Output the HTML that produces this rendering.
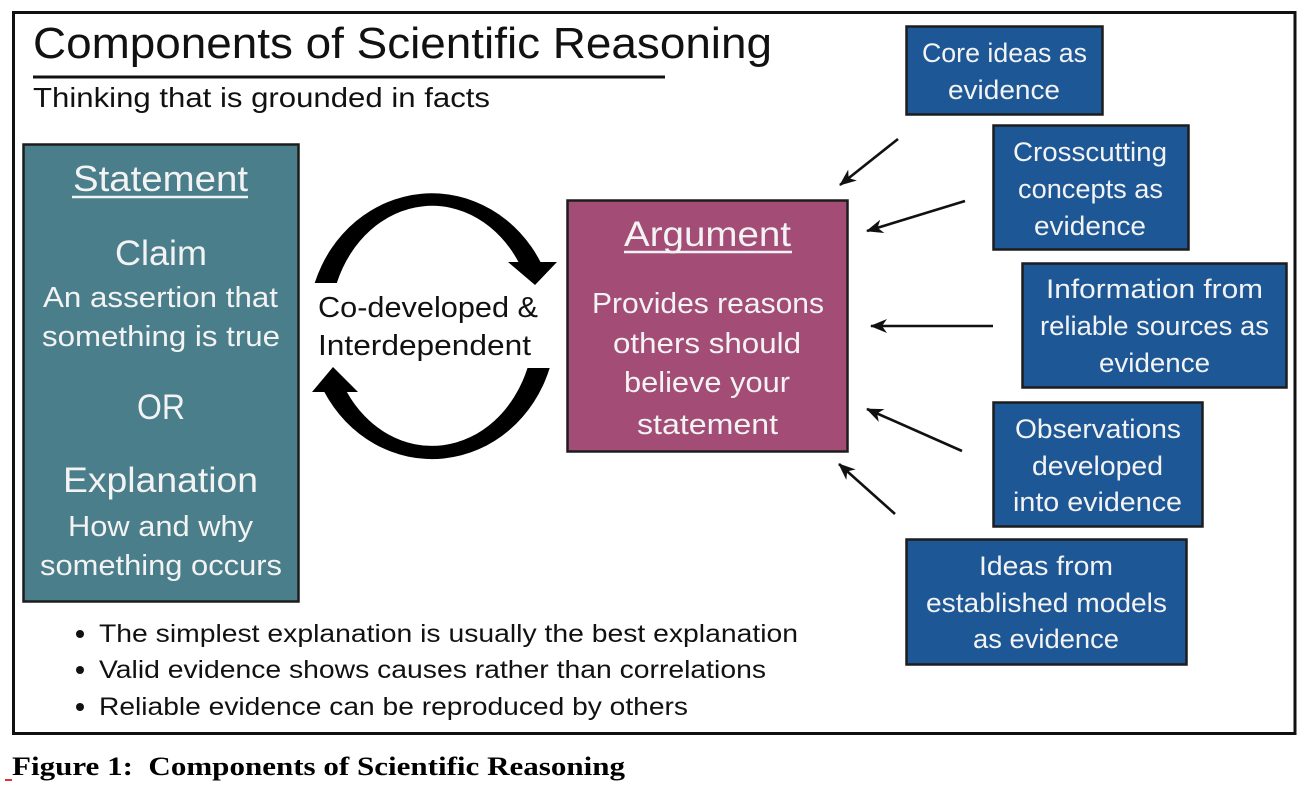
<!DOCTYPE html>
<html>
<head>
<meta charset="utf-8">
<style>
  html, body { margin: 0; padding: 0; background: #ffffff; }
  body { width: 1308px; height: 792px; overflow: hidden; }
  svg { display: block; }
  text { font-family: "Liberation Sans", Arial, sans-serif; }
  .cap { font-family: "Liberation Serif", "Times New Roman", serif; font-weight: bold; }
</style>
</head>
<body>
<svg width="1308" height="792" viewBox="0 0 1308 792" xmlns="http://www.w3.org/2000/svg">
  <defs>
    <marker id="ah" markerWidth="17" markerHeight="14" refX="16" refY="7" orient="auto" markerUnits="userSpaceOnUse">
      <path d="M0,0 L17,7 L0,14 L5,7 z" fill="#111"/>
    </marker>
  </defs>

  <rect x="0" y="0" width="1308" height="792" fill="#ffffff"/>

  <!-- outer frame -->
  <rect x="13.5" y="12.5" width="1281.5" height="721" fill="none" stroke="#111" stroke-width="3"/>

  <!-- title -->
  <text x="33" y="58" font-size="44" fill="#111" textLength="739" lengthAdjust="spacingAndGlyphs">Components of Scientific Reasoning</text>
  <line x1="33" y1="77" x2="665" y2="77" stroke="#111" stroke-width="3"/>
  <text x="33" y="107" font-size="28" fill="#111" textLength="457" lengthAdjust="spacingAndGlyphs">Thinking that is grounded in facts</text>

  <!-- Statement box -->
  <rect x="23.5" y="144.5" width="275" height="457" fill="#4a7e8b" stroke="#1d1d1d" stroke-width="2.5"/>
  <g fill="#f3f3f3">
    <text x="73" y="191" font-size="36" textLength="175" lengthAdjust="spacingAndGlyphs">Statement</text>
    <text x="115" y="265" font-size="35" textLength="92" lengthAdjust="spacingAndGlyphs">Claim</text>
    <text x="43" y="307" font-size="29" textLength="235" lengthAdjust="spacingAndGlyphs">An assertion that</text>
    <text x="42" y="346" font-size="29" textLength="238" lengthAdjust="spacingAndGlyphs">something is true</text>
    <text x="137" y="419" font-size="35" textLength="48" lengthAdjust="spacingAndGlyphs">OR</text>
    <text x="63" y="492" font-size="35" textLength="195" lengthAdjust="spacingAndGlyphs">Explanation</text>
    <text x="68" y="536" font-size="29" textLength="185" lengthAdjust="spacingAndGlyphs">How and why</text>
    <text x="40" y="575" font-size="29" textLength="242" lengthAdjust="spacingAndGlyphs">something occurs</text>
  </g>
  <line x1="72" y1="197" x2="248" y2="197" stroke="#f3f3f3" stroke-width="2.5"/>

  <!-- cycle arrows (tapered arcs) -->
  <path d="M 314.7 283 A 124 133 0 0 1 541 263 L 519 263 A 102 120 0 0 0 336.8 283 Z" fill="#000"/>
  <polygon points="508,262 557,262 535,285" fill="#000"/>
  <path d="M 549.7 368 A 124 133 0 0 1 323.8 391 L 346.3 391 A 102 120 0 0 0 527.5 368 Z" fill="#000"/>
  <polygon points="312,392 358,392 333,367" fill="#000"/>
  <text x="318" y="317" font-size="29" fill="#111" textLength="220" lengthAdjust="spacingAndGlyphs">Co-developed &amp;</text>
  <text x="318" y="355" font-size="29" fill="#111" textLength="213" lengthAdjust="spacingAndGlyphs">Interdependent</text>

  <!-- Argument box -->
  <rect x="567.5" y="200.5" width="280" height="251" fill="#a34c76" stroke="#1d1d1d" stroke-width="2.5"/>
  <g fill="#f3f3f3">
    <text x="624" y="246" font-size="35" textLength="167" lengthAdjust="spacingAndGlyphs">Argument</text>
    <text x="592" y="313" font-size="29" textLength="232" lengthAdjust="spacingAndGlyphs">Provides reasons</text>
    <text x="613" y="353" font-size="29" textLength="188" lengthAdjust="spacingAndGlyphs">others should</text>
    <text x="624" y="392" font-size="29" textLength="166" lengthAdjust="spacingAndGlyphs">believe your</text>
    <text x="637" y="434" font-size="29" textLength="141" lengthAdjust="spacingAndGlyphs">statement</text>
  </g>
  <line x1="624" y1="252" x2="792" y2="252" stroke="#f3f3f3" stroke-width="2.5"/>

  <!-- evidence boxes -->
  <g stroke="#1d1d1d" stroke-width="2.5" fill="#1d5795">
    <rect x="906.5" y="26.5" width="196" height="88"/>
    <rect x="993.5" y="125.5" width="195" height="124"/>
    <rect x="1022.5" y="263.5" width="264" height="124"/>
    <rect x="993.5" y="402.5" width="209" height="124"/>
    <rect x="906.5" y="539.5" width="280" height="125"/>
  </g>
  <g fill="#f3f3f3" font-size="27">
    <text x="922" y="62" textLength="165" lengthAdjust="spacingAndGlyphs">Core ideas as</text>
    <text x="948" y="99" textLength="112" lengthAdjust="spacingAndGlyphs">evidence</text>

    <text x="1013" y="161" textLength="154" lengthAdjust="spacingAndGlyphs">Crosscutting</text>
    <text x="1018" y="198" textLength="145" lengthAdjust="spacingAndGlyphs">concepts as</text>
    <text x="1034" y="235" textLength="112" lengthAdjust="spacingAndGlyphs">evidence</text>

    <text x="1046" y="298" textLength="217" lengthAdjust="spacingAndGlyphs">Information from</text>
    <text x="1040" y="335" textLength="229" lengthAdjust="spacingAndGlyphs">reliable sources as</text>
    <text x="1099" y="372" textLength="111" lengthAdjust="spacingAndGlyphs">evidence</text>

    <text x="1015" y="438" textLength="166" lengthAdjust="spacingAndGlyphs">Observations</text>
    <text x="1032" y="475" textLength="131" lengthAdjust="spacingAndGlyphs">developed</text>
    <text x="1013" y="511" textLength="169" lengthAdjust="spacingAndGlyphs">into evidence</text>

    <text x="979" y="575" textLength="134" lengthAdjust="spacingAndGlyphs">Ideas from</text>
    <text x="926" y="612" textLength="241" lengthAdjust="spacingAndGlyphs">established models</text>
    <text x="973" y="648" textLength="146" lengthAdjust="spacingAndGlyphs">as evidence</text>
  </g>

  <!-- evidence arrows -->
  <g stroke="#111" stroke-width="2.6" fill="none" marker-end="url(#ah)">
    <line x1="898" y1="139" x2="840" y2="185"/>
    <line x1="965" y1="201" x2="867" y2="231"/>
    <line x1="993" y1="326" x2="871" y2="326"/>
    <line x1="962" y1="451" x2="867" y2="409"/>
    <line x1="895" y1="514" x2="839" y2="464"/>
  </g>

  <!-- bullets -->
  <g fill="#111">
    <circle cx="80" cy="634" r="4"/>
    <circle cx="80" cy="670" r="4"/>
    <circle cx="80" cy="707" r="4"/>
    <text x="99" y="642" font-size="25" textLength="699" lengthAdjust="spacingAndGlyphs">The simplest explanation is usually the best explanation</text>
    <text x="99" y="678" font-size="25" textLength="667" lengthAdjust="spacingAndGlyphs">Valid evidence shows causes rather than correlations</text>
    <text x="99" y="715" font-size="25" textLength="589" lengthAdjust="spacingAndGlyphs">Reliable evidence can be reproduced by others</text>
  </g>

  <!-- caption -->
  <text class="cap" x="12" y="775" font-size="26" fill="#000" textLength="613" lengthAdjust="spacingAndGlyphs">Figure 1:&#160; Components of Scientific Reasoning</text>
  <line x1="5" y1="780" x2="12" y2="780" stroke="#d33" stroke-width="2"/>
</svg>
</body>
</html>
